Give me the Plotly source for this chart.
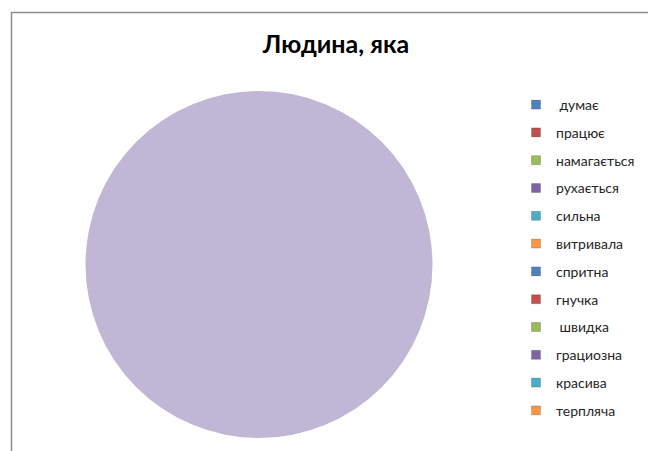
import plotly.graph_objects as go

labels = [" думає", "працює", "намагається", "рухається", "сильна", "витривала",
          "спритна", "гнучка", " швидка", "грациозна", "красива", "терпляча"]
values = [0, 0, 0, 1, 0, 0, 0, 0, 0, 0, 0, 0]
legend_colors = ["#4F81BD", "#C0504D", "#9BBB59", "#8064A2", "#4BACC6", "#F79646",
                 "#4F81BD", "#C0504D", "#9BBB59", "#8064A2", "#4BACC6", "#F79646"]
slice_colors = ["#C0B6D6" if v > 0 else c for v, c in zip(values, legend_colors)]
title = "Людина, яка"

W, H = 648, 451
fig = go.Figure()
fig.add_trace(go.Pie(
    labels=labels, values=values, sort=False, direction="clockwise",
    marker=dict(colors=slice_colors, line=dict(width=0)),
    textinfo="none", hoverinfo="label+percent", showlegend=False,
    domain=dict(x=[85 / W, 433 / W], y=[1 - 438 / H, 1 - 91 / H]),
))
for lab, col in zip(labels, legend_colors):
    fig.add_trace(go.Scatter(
        x=[None], y=[None], mode="markers", name=lab, legendgroup=lab,
        marker=dict(symbol="square", size=9, color=col,
                    line=dict(color="rgba(0,0,0,0.35)", width=0.5)),
    ))

fig.update_layout(
    width=W, height=H,
    margin=dict(l=0, r=0, t=0, b=0),
    paper_bgcolor="white", plot_bgcolor="white",
    xaxis=dict(visible=False), yaxis=dict(visible=False),
    title=dict(text=title, x=336 / W, xanchor="center", y=1 - 44 / H, yanchor="middle",
               font=dict(family="Lato", size=25, color="#000000", weight="bold")),
    legend=dict(x=516 / W, xanchor="left", y=1 - 89 / H, yanchor="top",
                font=dict(family="Lato", size=14, color="#262626"),
                traceorder="grouped", tracegroupgap=6.6,
                bgcolor="rgba(0,0,0,0)"),
    shapes=[dict(type="rect", xref="paper", yref="paper",
                 x0=11.5 / W, x1=1.05, y0=-0.05, y1=1 - 12.5 / H,
                 line=dict(color="#8C8C8C", width=1.5), layer="below")],
    showlegend=True,
)
fig.write_html("out.html")
